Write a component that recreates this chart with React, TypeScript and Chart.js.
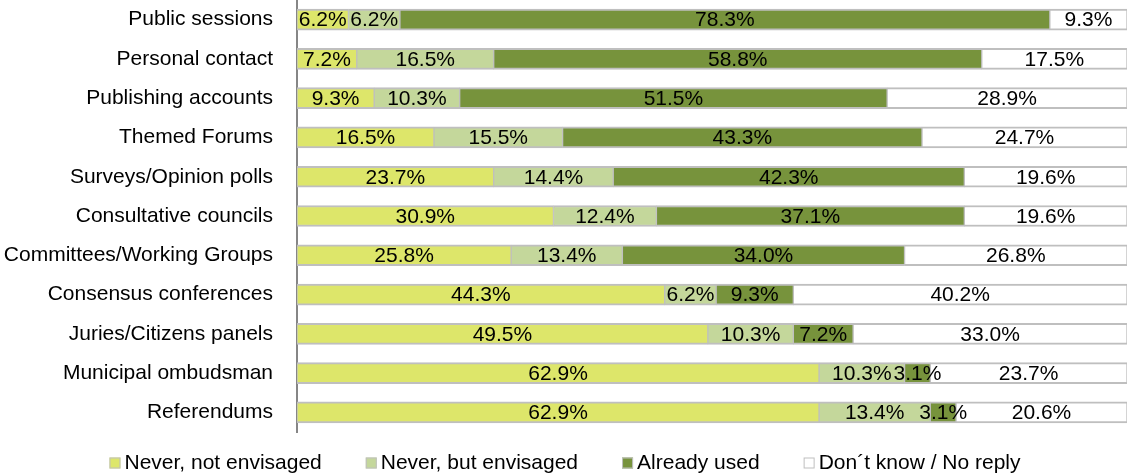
import React, { useEffect, useRef } from "react";
import { Chart, registerables } from "chart.js";

Chart.register(...registerables);

const categories = [
  "Public sessions",
  "Personal contact",
  "Publishing accounts",
  "Themed Forums",
  "Surveys/Opinion polls",
  "Consultative councils",
  "Committees/Working Groups",
  "Consensus conferences",
  "Juries/Citizens panels",
  "Municipal ombudsman",
  "Referendums",
];

const seriesNames = [
  "Never, not envisaged",
  "Never, but envisaged",
  "Already used",
  "Don\u00b4t know / No reply",
];

const neverNotEnvisaged = [6.2, 7.2, 9.3, 16.5, 23.7, 30.9, 25.8, 44.3, 49.5, 62.9, 62.9];
const neverButEnvisaged = [6.2, 16.5, 10.3, 15.5, 14.4, 12.4, 13.4, 6.2, 10.3, 10.3, 13.4];
const alreadyUsed = [78.3, 58.8, 51.5, 43.3, 42.3, 37.1, 34.0, 9.3, 7.2, 3.1, 3.1];
const dontKnow = [9.3, 17.5, 28.9, 24.7, 19.6, 19.6, 26.8, 40.2, 33.0, 23.7, 20.6];

const colors = ["#DDE66A", "#C4D79B", "#77933C", "#FFFFFF"];
const borderGray = "#BFBFBF";
const FONT = "'Liberation Sans', Arial, Helvetica, sans-serif";

const labelPlugin = {
  id: "barLabels",
  afterDatasetsDraw(chart: any) {
    const ctx = chart.ctx;
    ctx.save();
    ctx.font = `21px ${FONT}`;
    ctx.fillStyle = "#000000";
    ctx.textAlign = "center";
    ctx.textBaseline = "middle";
    chart.data.datasets.forEach((ds: any, di: number) => {
      const meta = chart.getDatasetMeta(di);
      meta.data.forEach((el: any, i: number) => {
        const v = ds.data[i];
        const cx = (el.x + el.base) / 2;
        ctx.fillText(v.toFixed(1) + "%", cx, el.y + 1);
      });
    });
    ctx.restore();
  },
};

const legendPlugin = {
  id: "customLegend",
  afterDraw(chart: any) {
    const ctx = chart.ctx;
    ctx.save();
    ctx.font = `21px ${FONT}`;
    const box = 11;
    const gapBoxText = 4;
    const gapItems = 44;
    const widths = chart.data.datasets.map(
      (ds: any) => box + gapBoxText + ctx.measureText(ds.label).width
    );
    const total = widths.reduce((a: number, b: number) => a + b, 0) + gapItems * (widths.length - 1);
    let x = chart.width / 2 - total / 2;
    const cy = 463;
    chart.data.datasets.forEach((ds: any, i: number) => {
      ctx.fillStyle = ds.backgroundColor;
      ctx.fillRect(x, cy - box / 2, box, box);
      ctx.strokeStyle = borderGray;
      ctx.lineWidth = 1;
      ctx.strokeRect(x + 0.5, cy - box / 2 + 0.5, box - 1, box - 1);
      ctx.fillStyle = "#000000";
      ctx.textAlign = "left";
      ctx.textBaseline = "middle";
      ctx.fillText(ds.label, x + box + gapBoxText, cy);
      x += widths[i] + gapItems;
    });
    ctx.restore();
  },
};

export default function App() {
  const ref = useRef<HTMLCanvasElement | null>(null);

  useEffect(() => {
    document.body.style.margin = "0";
    const canvas = ref.current;
    if (!canvas) return;
    const seriesData = [neverNotEnvisaged, neverButEnvisaged, alreadyUsed, dontKnow];
    const chart = new Chart(canvas, {
      type: "bar",
      data: {
        labels: categories,
        datasets: seriesData.map((d, i) => ({
          label: seriesNames[i],
          data: d,
          backgroundColor: colors[i],
          borderColor: borderGray,
          borderWidth: { top: 2, bottom: 2, left: 1, right: 1 },
          borderSkipped: false,
          barThickness: 21,
        })),
      },
      options: {
        indexAxis: "y",
        responsive: false,
        animation: false,
        devicePixelRatio: 1,
        layout: { padding: { top: 0, right: 3, bottom: 43, left: 0 } },
        plugins: {
          legend: { display: false },
          tooltip: { enabled: false },
        },
        scales: {
          x: {
            stacked: true,
            min: 0,
            max: 100,
            display: false,
          },
          y: {
            stacked: true,
            grid: { display: false, drawTicks: false },
            border: { display: true, color: "#868686", width: 2 },
            ticks: {
              color: "#000000",
              padding: 24,
              font: { size: 21, family: FONT },
            },
            afterFit(scale: any) {
              scale.width = 297;
              scale.paddingTop = 0;
              scale.paddingBottom = 0;
            },
          },
        },
      },
      plugins: [labelPlugin, legendPlugin],
    } as any);
    return () => chart.destroy();
  }, []);

  return (
    <div style={{ width: 1130, height: 475 }}>
      <canvas ref={ref} width={1130} height={475} style={{ display: "block" }} />
    </div>
  );
}
